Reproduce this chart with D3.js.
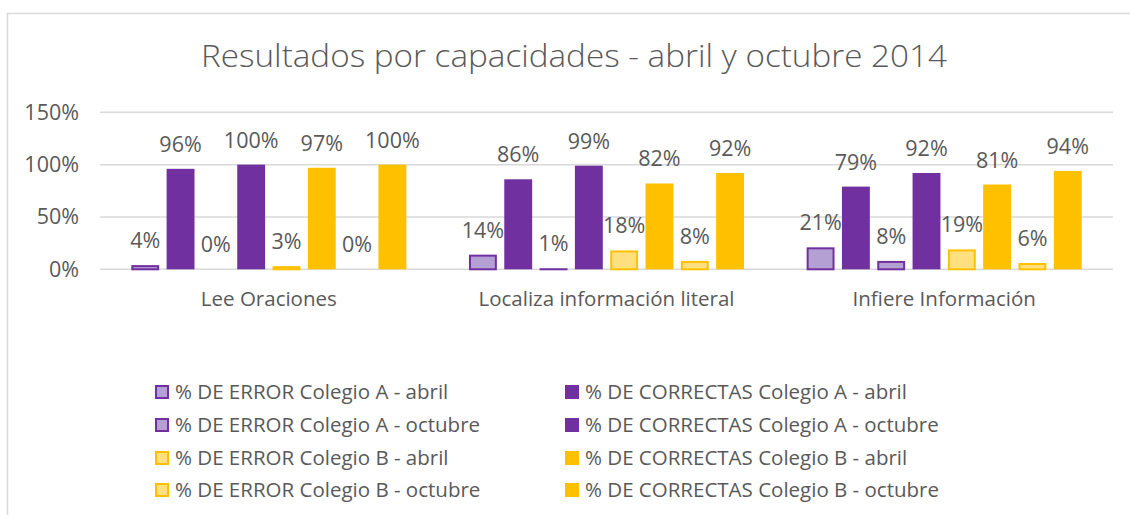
<!DOCTYPE html>
<html>
<head>
<meta charset="utf-8">
<script src="https://cdn.jsdelivr.net/npm/d3@7"></script>
<style>
  html, body { margin: 0; padding: 0; background: #fff; }
  svg { display: block; }
  text { font-family: "Open Sans", sans-serif; fill: #595959; }
</style>
</head>
<body>
<svg id="chart" width="1130" height="515"></svg>
<script>
const categories = ["Lee Oraciones", "Localiza información literal", "Infiere Información"];
const seriesNames = [
  "% DE ERROR Colegio A - abril",
  "% DE CORRECTAS Colegio A - abril",
  "% DE ERROR Colegio A - octubre",
  "% DE CORRECTAS Colegio A - octubre",
  "% DE ERROR Colegio B - abril",
  "% DE CORRECTAS Colegio B - abril",
  "% DE ERROR Colegio B - octubre",
  "% DE CORRECTAS Colegio B - octubre"
];
// values per series, in category order
const errorA_abril     = [4, 14, 21];
const correctA_abril   = [96, 86, 79];
const errorA_octubre   = [0, 1, 8];
const correctA_octubre = [100, 99, 92];
const errorB_abril     = [3, 18, 19];
const correctB_abril   = [97, 82, 81];
const errorB_octubre   = [0, 8, 6];
const correctB_octubre = [100, 92, 94];
const yTicks = [0, 50, 100, 150];

const seriesValues = [errorA_abril, correctA_abril, errorA_octubre, correctA_octubre,
                      errorB_abril, correctB_abril, errorB_octubre, correctB_octubre];
const fills   = ["#b4a0d2", "#7030a0", "#b4a0d2", "#7030a0", "#ffdf80", "#ffc000", "#ffdf80", "#ffc000"];
const strokes = ["#7030a0", "none", "#7030a0", "none", "#ffc000", "none", "#ffc000", "none"];

const svg = d3.select("#chart");

// chart border
svg.append("path")
  .attr("d", "M7.5,515 V13.5 H1130")
  .attr("fill", "none").attr("stroke", "#d9d9d9").attr("stroke-width", 1.5);

// title
svg.append("text")
  .attr("x", 574).attr("y", 67)
  .attr("text-anchor", "middle")
  .attr("font-size", 31)
  .attr("font-weight", 300)
  .attr("textLength", 746)
  .attr("lengthAdjust", "spacingAndGlyphs")
  .text("Resultados por capacidades - abril y octubre 2014");

const plotLeft = 100, plotRight = 1113;
const y = d3.scaleLinear().domain([0, 150]).range([269.3, 112.3]);
const x0 = d3.scaleBand().domain(categories).range([plotLeft, plotRight]).padding(0);
const x1 = d3.scaleBand().domain(d3.range(seriesNames.length))
  .range([31.3, x0.bandwidth() - 31.3]).paddingInner(0.21).paddingOuter(0);

// gridlines
svg.append("g").selectAll("line").data(yTicks).join("line")
  .attr("x1", plotLeft).attr("x2", plotRight)
  .attr("y1", d => y(d)).attr("y2", d => y(d))
  .attr("stroke", "#d9d9d9").attr("stroke-width", 1.5);

// y axis labels
const yAxis = d3.axisLeft(y).tickValues(yTicks).tickFormat(d => d + "%").tickSize(0).tickPadding(0);
const gy = svg.append("g").attr("transform", "translate(79,0)").call(yAxis);
gy.select(".domain").remove();
gy.selectAll("text").attr("font-size", 21.5).attr("fill", "#595959")
  .style("font-family", '"Open Sans", sans-serif');

// x axis labels
const xAxis = d3.axisBottom(x0).tickSize(0).tickPadding(0);
const gx = svg.append("g").attr("transform", "translate(0,291)").call(xAxis);
gx.select(".domain").remove();
gx.selectAll("text").attr("font-size", 20.5).attr("fill", "#595959")
  .style("font-family", '"Open Sans", sans-serif');

// bars
const flat = [];
categories.forEach((c, ci) => {
  seriesValues.forEach((vals, si) => flat.push({ c, si, v: vals[ci] }));
});

const g = svg.append("g");
g.selectAll("rect").data(flat).join("rect")
  .attr("x", d => x0(d.c) + x1(d.si) + (strokes[d.si] !== "none" ? 1 : 0))
  .attr("y", d => y(d.v) + (strokes[d.si] !== "none" ? 1 : 0))
  .attr("width", d => x1.bandwidth() - (strokes[d.si] !== "none" ? 2 : 0))
  .attr("height", d => Math.max(0, y(0) - y(d.v) - (strokes[d.si] !== "none" ? 1 : 0)))
  .attr("fill", d => fills[d.si])
  .attr("stroke", d => strokes[d.si])
  .attr("stroke-width", d => (strokes[d.si] !== "none" && d.v > 0) ? 2 : 0);

// data labels
g.selectAll("text").data(flat).join("text")
  .attr("x", d => x0(d.c) + x1(d.si) + x1.bandwidth() / 2)
  .attr("y", d => y(d.v) - 17)
  .attr("text-anchor", "middle")
  .attr("font-size", 21.5)
  .text(d => d.v + "%");

// legend
const legendCols = [155, 565];
const legendRows = [392, 425, 458, 490];
const lg = svg.append("g");
seriesNames.forEach((name, i) => {
  const col = i % 2, row = Math.floor(i / 2);
  const lx = legendCols[col], ly = legendRows[row];
  const hasStroke = strokes[i] !== "none";
  lg.append("rect")
    .attr("x", lx + (hasStroke ? 1 : 0)).attr("y", ly - 7 + (hasStroke ? 1 : 0))
    .attr("width", hasStroke ? 12 : 14).attr("height", hasStroke ? 12 : 14)
    .attr("fill", fills[i])
    .attr("stroke", strokes[i]).attr("stroke-width", hasStroke ? 2 : 0);
  lg.append("text")
    .attr("x", lx + 20).attr("y", ly)
    .attr("dy", "0.35em")
    .attr("font-size", 20.5)
    .text(name);
});
</script>
</body>
</html>
